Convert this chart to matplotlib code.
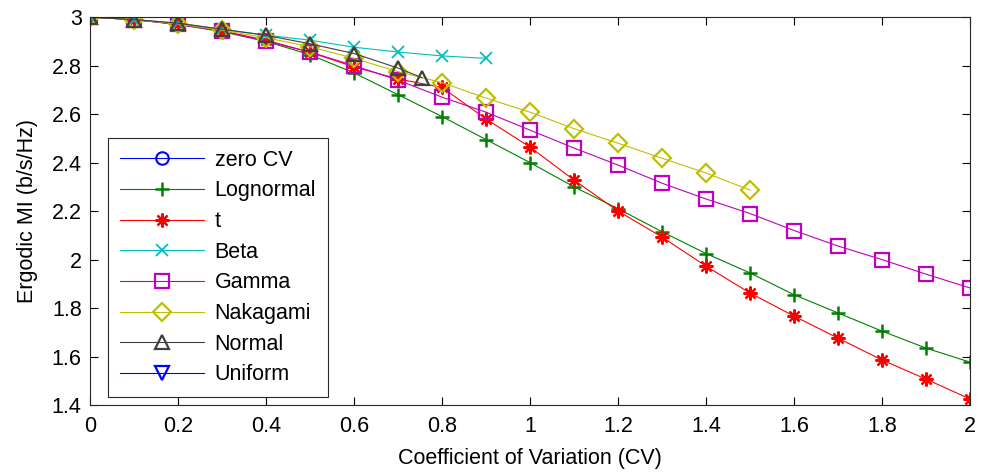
import matplotlib
matplotlib.use("Agg")
import matplotlib.pyplot as plt

plt.rcParams['font.family'] = ['Liberation Sans', 'DejaVu Sans']

# CV grid
cv_full = [0.0, 0.1, 0.2, 0.3, 0.4, 0.5, 0.6, 0.7, 0.8, 0.9, 1.0,
           1.1, 1.2, 1.3, 1.4, 1.5, 1.6, 1.7, 1.8, 1.9, 2.0]
cv_beta = [0.0, 0.1, 0.2, 0.3, 0.4, 0.5, 0.6, 0.7, 0.8, 0.9]
cv_naka = [0.0, 0.1, 0.2, 0.3, 0.4, 0.5, 0.6, 0.7, 0.8, 0.9, 1.0,
           1.1, 1.2, 1.3, 1.4, 1.5]
cv_normal = [0.0, 0.1, 0.2, 0.3, 0.4, 0.5, 0.6, 0.7, 0.755]
cv_zero = [0.0]
cv_uniform = [0.0]

mi_zero = [3.0]
mi_lognormal = [3.0, 2.99, 2.97, 2.94, 2.9, 2.845, 2.77, 2.68, 2.59, 2.495, 2.40,
                2.30, 2.21, 2.115, 2.025, 1.945, 1.855, 1.78, 1.705, 1.635, 1.577]
mi_t = [3.0, 2.99, 2.97, 2.943, 2.905, 2.855, 2.795, 2.745, 2.71, 2.58, 2.464,
        2.328, 2.20, 2.093, 1.973, 1.862, 1.767, 1.676, 1.586, 1.507, 1.425]
mi_beta = [3.0, 2.99, 2.975, 2.95, 2.926, 2.905, 2.876, 2.856, 2.84, 2.83]
mi_gamma = [3.0, 2.99, 2.97, 2.943, 2.90, 2.856, 2.80, 2.74, 2.67, 2.608, 2.534,
            2.46, 2.39, 2.315, 2.25, 2.19, 2.12, 2.056, 2.0, 1.94, 1.883]
mi_naka = [3.0, 2.99, 2.972, 2.946, 2.915, 2.878, 2.83, 2.775, 2.73, 2.666, 2.608,
           2.54, 2.48, 2.418, 2.357, 2.287]
mi_normal = [3.0, 2.99, 2.975, 2.95, 2.925, 2.89, 2.85, 2.79, 2.75]
mi_uniform = [3.0]

fig = plt.figure(figsize=(9.83, 4.76), dpi=100)
ax = fig.add_axes([0.0916, 0.149, 0.8952, 0.815])

lw = 0.8
asterisk = (8, 2, 0)
ax.plot(cv_zero, mi_zero, color='#0000ff', marker='o', ms=9, mfc='none', mew=1.5, lw=lw, label='zero CV')
ax.plot(cv_full, mi_lognormal, color='#008000', marker='+', ms=10, mew=1.8, lw=lw, label='Lognormal')
ax.plot(cv_full, mi_t, color='#ff0000', marker=asterisk, ms=10, mew=1.6, lw=lw, label='t')
ax.plot(cv_beta, mi_beta, color='#00bfbf', marker='x', ms=8, mew=1.3, lw=lw, label='Beta')
ax.plot(cv_full, mi_gamma, color='#bf00bf', marker='s', ms=10, mfc='none', mew=1.6, lw=lw, label='Gamma')
ax.plot(cv_naka, mi_naka, color='#bfbf00', marker='D', ms=9, mfc='none', mew=1.6, lw=lw, label='Nakagami')
ax.plot(cv_normal, mi_normal, color='#404040', marker='^', ms=10, mfc='none', mew=1.6, lw=lw, label='Normal')
ax.plot(cv_uniform, mi_uniform, color='#0000ff', marker='v', ms=10, mfc='none', mew=1.6, lw=lw,
        label='Uniform', zorder=1)

ax.set_xlim(0, 2)
ax.set_ylim(1.4, 3.0)
ax.set_xticks([0, 0.2, 0.4, 0.6, 0.8, 1.0, 1.2, 1.4, 1.6, 1.8, 2.0])
ax.set_xticklabels(['0', '0.2', '0.4', '0.6', '0.8', '1', '1.2', '1.4', '1.6', '1.8', '2'])
ax.set_yticks([1.4, 1.6, 1.8, 2.0, 2.2, 2.4, 2.6, 2.8, 3.0])
ax.set_yticklabels(['1.4', '1.6', '1.8', '2', '2.2', '2.4', '2.6', '2.8', '3'])
ax.tick_params(direction='in', top=True, right=True, labelsize=15.5, length=6, width=0.8)
ax.tick_params(axis='x', pad=8)
ax.tick_params(axis='y', pad=6)
for s in ax.spines.values():
    s.set_color('#262626')
    s.set_linewidth(0.8)

ax.set_xlabel('Coefficient of Variation (CV)', fontsize=15.5, labelpad=8)
ax.set_ylabel('Ergodic MI (b/s/Hz)', fontsize=15.5, labelpad=10)

leg = ax.legend(loc='lower left', bbox_to_anchor=(0.0205, 0.02), fontsize=15.5, fancybox=False,
                edgecolor='#262626', framealpha=1, handlelength=3.9, labelspacing=0.45,
                borderpad=0.55, handletextpad=0.5, borderaxespad=0.0)
leg.get_frame().set_linewidth(0.8)

fig.savefig('out.png', dpi=100)
